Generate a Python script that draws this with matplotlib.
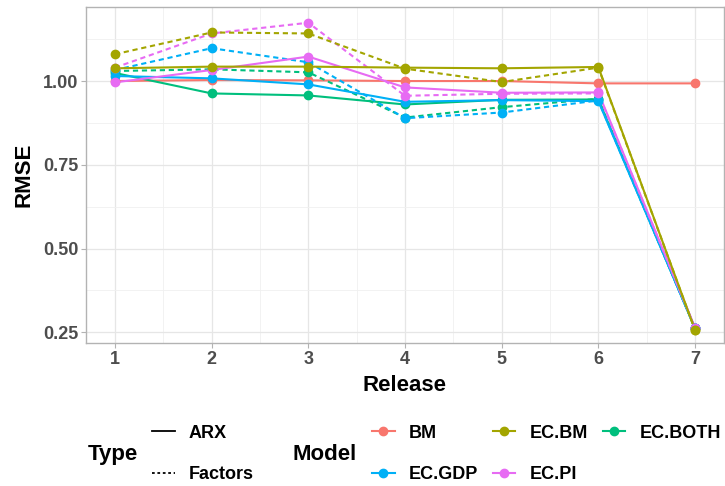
import matplotlib
matplotlib.use("Agg")
import matplotlib.pyplot as plt
from matplotlib.lines import Line2D

plt.rcParams["font.family"] = ["Liberation Sans", "DejaVu Sans"]
plt.rcParams["font.weight"] = "bold"

releases = [1, 2, 3, 4, 5, 6, 7]
models = ["BM", "EC.BOTH", "EC.GDP", "EC.PI", "EC.BM"]
colors = {"BM": "#F8766D", "EC.BM": "#A3A500", "EC.BOTH": "#00BF7D",
          "EC.GDP": "#00B0F6", "EC.PI": "#E76BF3"}

# RMSE by release, ARX type
arx = {
    "BM":      [1.000, 1.003, 1.002, 1.000, 1.000, 0.993, 0.993],
    "EC.BM":   [1.038, 1.043, 1.043, 1.040, 1.038, 1.042, 0.257],
    "EC.BOTH": [1.024, 0.963, 0.957, 0.930, 0.944, 0.945, 0.262],
    "EC.GDP":  [1.015, 1.008, 0.990, 0.938, 0.943, 0.940, 0.262],
    "EC.PI":   [0.996, 1.033, 1.073, 0.981, 0.965, 0.966, 0.264],
}
# RMSE by release, Factors type
factors = {
    "EC.BM":   [1.080, 1.145, 1.142, 1.037, 0.997, 1.040, 0.257],
    "EC.BOTH": [1.030, 1.035, 1.026, 0.891, 0.922, 0.947, 0.262],
    "EC.GDP":  [1.033, 1.098, 1.056, 0.889, 0.906, 0.942, 0.262],
    "EC.PI":   [1.040, 1.142, 1.174, 0.956, 0.962, 0.963, 0.264],
}

W, H = 725, 486
fig = plt.figure(figsize=(W / 100, H / 100), dpi=100)
ax = fig.add_axes([86 / W, (H - 343) / H, (724 - 86) / W, (343 - 7) / H])

dash = (2.5, 1.8)
for m in models:
    ax.plot(releases, arx[m], color=colors[m], lw=1.5, zorder=3)
    if m in factors:
        ax.plot(releases, factors[m], color=colors[m], lw=1.5,
                dashes=dash, zorder=3)
for m in models:
    ax.plot(releases, arx[m], "o", color=colors[m], ms=6, zorder=4)
    if m in factors:
        ax.plot(releases, factors[m], "o", color=colors[m], ms=6, zorder=4)

ax.set_xlim(0.7, 7.3)
ax.set_ylim(0.218, 1.221)
ax.set_xticks(releases)
ax.set_yticks([0.25, 0.50, 0.75, 1.00])
ax.set_yticklabels(["0.25", "0.50", "0.75", "1.00"])
ax.set_xticks([1.5, 2.5, 3.5, 4.5, 5.5, 6.5], minor=True)
ax.set_yticks([0.375, 0.625, 0.875, 1.125], minor=True)
ax.grid(which="major", color="#E6E6E6", lw=0.9)
ax.grid(which="minor", color="#F0F0F0", lw=0.6)
ax.set_axisbelow(True)
ax.tick_params(which="major", length=3.5, width=0.8, color="#B3B3B3",
               labelsize=13, labelcolor="#4D4D4D", pad=2)
ax.tick_params(which="minor", length=0)
for lab in ax.get_xticklabels() + ax.get_yticklabels():
    lab.set_fontweight("bold")
for s in ax.spines.values():
    s.set_color("#B3B3B3")
    s.set_linewidth(1.0)

ax.set_xlabel("Release", fontsize=16, fontweight="bold", labelpad=5)
ax.set_ylabel("RMSE", fontsize=16, fontweight="bold", labelpad=6)

# legends
ly = 1 - 454 / H
fig.text(88 / W, ly, "Type", fontsize=16, fontweight="bold", va="center")
type_handles = [Line2D([], [], color="black", lw=1.3),
                Line2D([], [], color="black", lw=1.3, dashes=(1.5, 1.5))]
leg1 = fig.legend(type_handles, ["ARX", "Factors"], loc="center left",
                  bbox_to_anchor=(152 / W, ly), frameon=False, fontsize=13,
                  handlelength=1.25, handletextpad=0.8, labelspacing=1.35,
                  borderpad=0, borderaxespad=0)

fig.text(292 / W, ly, "Model", fontsize=16, fontweight="bold", va="center")
order = ["BM", "EC.GDP", "EC.BM", "EC.PI", "EC.BOTH"]
model_handles = [Line2D([], [], color=colors[m], lw=1.5, marker="o", ms=6)
                 for m in order]
leg2 = fig.legend(model_handles, order, loc="center left", ncol=3,
                  bbox_to_anchor=(372 / W, ly), frameon=False, fontsize=13,
                  handlelength=1.25, handletextpad=0.8, labelspacing=1.35,
                  columnspacing=0.8, borderpad=0, borderaxespad=0)

fig.savefig("out.png", dpi=100)
